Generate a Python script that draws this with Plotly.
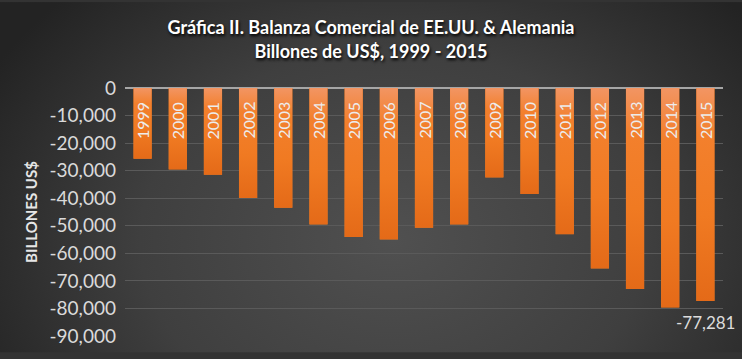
import base64
import plotly.graph_objects as go

# ---- data ----
years = ["1999", "2000", "2001", "2002", "2003", "2004", "2005", "2006", "2007",
         "2008", "2009", "2010", "2011", "2012", "2013", "2014", "2015"]
balance = [-25700, -29600, -31500, -39900, -43500, -49500, -54100, -54950, -50700,
           -49500, -32450, -38500, -53100, -65500, -72950, -79700, -77281]
tick_vals = [0, -10000, -20000, -30000, -40000, -50000, -60000, -70000, -80000, -90000]
tick_labels = ["0", "-10,000", "-20,000", "-30,000", "-40,000", "-50,000",
               "-60,000", "-70,000", "-80,000", "-90,000"]
labelled_year = "2015"

W, H = 742, 359
L, R, T, B = 125, 19, 88, 17
pw, ph = W - L - R, H - T - B
BAR_W = 0.52


def svg_uri(svg):
    return "data:image/svg+xml;base64," + base64.b64encode(svg.encode()).decode()


bg_svg = f'''<svg xmlns="http://www.w3.org/2000/svg" width="{W}" height="{H}" viewBox="0 0 {W} {H}" preserveAspectRatio="none">
<defs><radialGradient id="g" cx="0.53" cy="0.68" r="0.62" gradientTransform="translate(0.53 0.68) scale(1 1.6) translate(-0.53 -0.68)">
<stop offset="0" stop-color="#505050"/><stop offset="0.55" stop-color="#3f3f3f"/><stop offset="1" stop-color="#232323"/></radialGradient></defs>
<rect width="{W}" height="{H}" fill="url(#g)"/></svg>'''

bar_svg = '''<svg xmlns="http://www.w3.org/2000/svg" width="20" height="200" viewBox="0 0 20 200" preserveAspectRatio="none">
<defs><linearGradient id="b" x1="0" y1="0" x2="0" y2="1">
<stop offset="0" stop-color="#f29563"/><stop offset="0.22" stop-color="#f3802d"/>
<stop offset="0.6" stop-color="#f07a22"/><stop offset="1" stop-color="#e46a18"/></linearGradient></defs>
<rect width="20" height="200" fill="url(#b)"/></svg>'''

FONT = "Lato, 'Open Sans', sans-serif"

fig = go.Figure()
fig.add_trace(go.Bar(
    x=years, y=balance,
    marker=dict(color="#f07a22", line=dict(width=0)),
    width=BAR_W,
    hoverinfo="x+y",
))

images = [dict(source=svg_uri(bg_svg), xref="paper", yref="paper",
               x=-L / pw, y=1 + T / ph, sizex=W / pw, sizey=H / ph,
               xanchor="left", yanchor="top", sizing="stretch", layer="below")]
# gradient skin laid over each bar, positioned through the axes from the data
for i, v in enumerate(balance):
    images.append(dict(source=svg_uri(bar_svg), xref="x", yref="y",
                       x=i, y=0, sizex=BAR_W, sizey=abs(v),
                       xanchor="center", yanchor="top", sizing="stretch", layer="above"))

for i, yr in enumerate(years):
    fig.add_annotation(x=i, y=0, text=yr, textangle=-90, showarrow=False,
                       xanchor="center", yanchor="top", yshift=-12,
                       font=dict(family=FONT, size=16, color="#ececec"))

idx = years.index(labelled_year)
fig.add_annotation(x=idx, y=balance[idx], text=f"{balance[idx]:,}",
                   showarrow=False, xanchor="center", yanchor="top", yshift=-9,
                   font=dict(family=FONT, size=17, color="#dcdcdc"))

fig.update_layout(
    width=W, height=H,
    margin=dict(l=L, r=R, t=T, b=B),
    paper_bgcolor="#333333", plot_bgcolor="rgba(0,0,0,0)",
    showlegend=False,
    title=dict(text="Gráfica II. Balanza Comercial de EE.UU. & Alemania<br>Billones de US$, 1999 - 2015",
               x=0.5, xanchor="center", xref="container",
               y=0.905, yanchor="top", yref="container",
               font=dict(family=FONT, size=18, color="#ffffff", weight="bold",
                         shadow="1px 2px 3px #000000")),
    xaxis=dict(type="category", showticklabels=False, showgrid=False, zeroline=False,
               showline=False, ticks="", range=[-0.5, len(years) - 0.5]),
    yaxis=dict(range=[-90000, 0], tickvals=tick_vals, ticktext=tick_labels,
               showgrid=True, gridcolor="#5a5a5a", gridwidth=1,
               zeroline=True, zerolinecolor="#a6a6a6", zerolinewidth=1.5,
               ticks="", ticklabelstandoff=8,
               tickfont=dict(family=FONT, size=19, color="#dadada"),
               title=dict(text="BILLONES US$", standoff=8,
                          font=dict(family=FONT, size=15, color="#e6e6e6", weight="bold"))),
    images=images,
)

fig.write_html("out.html", config={"displayModeBar": False},
               post_script="document.body.style.margin='0';document.body.style.padding='0';")
